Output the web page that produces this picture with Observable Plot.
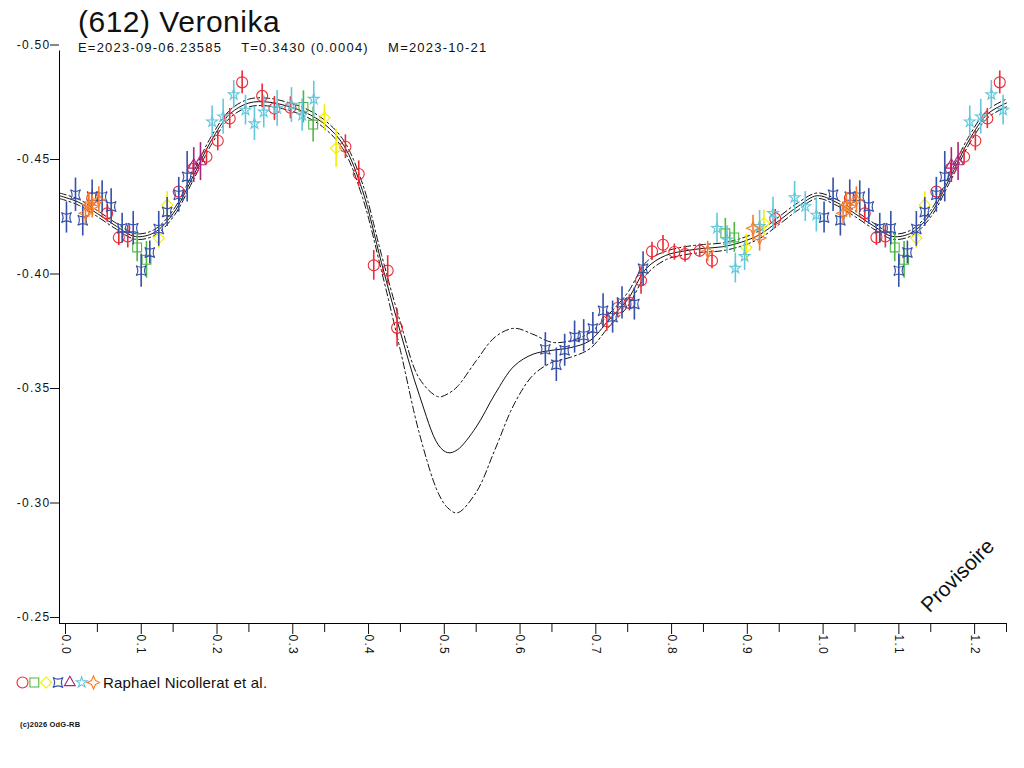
<!DOCTYPE html>
<html><head><meta charset="utf-8">
<script src="https://cdn.jsdelivr.net/npm/d3@7"></script>
<script src="https://cdn.jsdelivr.net/npm/@observablehq/plot@0.6"></script>
<style>
body{margin:0;background:#fff;font-family:Arial,"Liberation Sans",sans-serif;color:#111;}
#wrap{position:relative;width:1024px;height:768px;overflow:hidden;background:#fff;}
#chart{position:absolute;left:0;top:0;}
#title{position:absolute;left:78px;top:7px;font-size:30px;line-height:30px;letter-spacing:0.5px;white-space:pre;}
#sub{position:absolute;left:78px;top:41px;font-size:13px;line-height:13px;letter-spacing:1.2px;white-space:pre;}
#legsym{position:absolute;left:0;top:672px;}
#legtxt{position:absolute;left:103px;top:675px;font-size:15px;line-height:15px;letter-spacing:0.2px;white-space:pre;}
#copy{position:absolute;left:20px;top:721px;font-size:7.5px;font-weight:bold;line-height:7.5px;letter-spacing:0.2px;white-space:pre;}
#chart g[aria-label="y-axis tick label"] text,#chart g[aria-label="x-axis tick label"] text{letter-spacing:1.3px;}
</style></head><body>
<div id="wrap">
<div id="chart"></div>
<div id="title">(612) Veronika</div>
<div id="sub">E=2023-09-06.23585    T=0.3430 (0.0004)    M=2023-10-21</div>
<div id="legsym"></div>
<div id="legtxt">Raphael Nicollerat et al.</div>
<div id="copy">(c)2026 OdG-RB</div>
</div>
<script>
// ---------- axis ticks ----------
const xMajorTicks = [0,0.1,0.2,0.3,0.4,0.5,0.6,0.7,0.8,0.9,1.0,1.1,1.2];
const xMinorTicks = [0.05,0.15,0.25,0.35,0.45,0.55,0.65,0.75,0.85,0.95,1.05,1.15,1.25];
const yTicks = [-0.50,-0.45,-0.40,-0.35,-0.30,-0.25];

// ---------- fitted light curve (phase, mid, upper, lower) ----------
const fitPhase = [0,0.025,0.05,0.075,0.1,0.125,0.15,0.175,0.2,0.225,0.25,0.275,0.3,0.325,0.35,0.375,0.4,0.425,0.45,0.475,0.5,0.5125,0.525,0.55,0.575,0.6,0.625,0.65,0.675,0.7,0.725,0.75,0.775,0.8,0.825,0.85,0.875,0.9,0.925,0.95,0.975,1.0];
const fitMid = [-0.4368,-0.4340,-0.4290,-0.4235,-0.4190,-0.4207,-0.4290,-0.4443,-0.4607,-0.4725,-0.4773,-0.4777,-0.4760,-0.4731,-0.4680,-0.4589,-0.4390,-0.4075,-0.3772,-0.3497,-0.3280,-0.3246,-0.3258,-0.3358,-0.3503,-0.3624,-0.3676,-0.3693,-0.3705,-0.3735,-0.3825,-0.3915,-0.4052,-0.4107,-0.4127,-0.4138,-0.4145,-0.4165,-0.4200,-0.4260,-0.4322,-0.4368];
const fitHi = [-0.4380,-0.4353,-0.4303,-0.4248,-0.4202,-0.4220,-0.4305,-0.4460,-0.4625,-0.4742,-0.4790,-0.4794,-0.4777,-0.4748,-0.4698,-0.4610,-0.4420,-0.4110,-0.3815,-0.3570,-0.3490,-0.3503,-0.3534,-0.3647,-0.3751,-0.3789,-0.3763,-0.3728,-0.3735,-0.3770,-0.3850,-0.3945,-0.4080,-0.4125,-0.4145,-0.4155,-0.4162,-0.4182,-0.4217,-0.4277,-0.4338,-0.4380];
const fitLo = [-0.4356,-0.4327,-0.4277,-0.4222,-0.4178,-0.4194,-0.4275,-0.4426,-0.4589,-0.4708,-0.4756,-0.4760,-0.4743,-0.4714,-0.4662,-0.4568,-0.4360,-0.4040,-0.3692,-0.3330,-0.3069,-0.3005,-0.2983,-0.3073,-0.3261,-0.3457,-0.3584,-0.3640,-0.3663,-0.3700,-0.3795,-0.3885,-0.4025,-0.4088,-0.4110,-0.4121,-0.4128,-0.4148,-0.4183,-0.4243,-0.4306,-0.4356];

// ---------- observations: [phase, magnitude, error] ----------
const redCircle = [[0.0432,-0.4357,0.0035],[0.0629,-0.4291,0.0039],[0.0783,-0.4186,0.0035],[0.0901,-0.4190,0.0050],[0.1574,-0.4386,0.0017],[0.1764,-0.4487,0.0022],[0.1940,-0.4538,0.0035],[0.2089,-0.4608,0.0044],[0.2247,-0.4705,0.0044],[0.2411,-0.4863,0.0050],[0.2675,-0.4804,0.0052],[0.2837,-0.4749,0.0052],[0.3048,-0.4752,0.0048],[0.3774,-0.4582,0.0052],[0.3950,-0.4463,0.0057],[0.4148,-0.4064,0.0065],[0.4332,-0.4041,0.0065],[0.4456,-0.3791,0.0083],[0.7225,-0.3820,0.0044],[0.7367,-0.3878,0.0044],[0.7522,-0.3900,0.0035],[0.7676,-0.3998,0.0060],[0.7821,-0.4125,0.0040],[0.7966,-0.4154,0.0040],[0.8116,-0.4122,0.0035],[0.8257,-0.4113,0.0035],[0.8450,-0.4128,0.0030],[0.8613,-0.4084,0.0035],[0.9448,-0.4268,0.0040]];
const greenSquare = [[0.1025,-0.4142,0.0062],[0.1148,-0.4088,0.0080],[0.3220,-0.4756,0.0070],[0.3348,-0.4679,0.0076],[0.8789,-0.4204,0.0065],[0.8907,-0.4186,0.0065]];
const yellowDiamond = [[0.1310,-0.4183,0.0045],[0.1421,-0.4328,0.0057],[0.3497,-0.4708,0.0057],[0.3651,-0.4575,0.0083],[0.9066,-0.4142,0.0057],[0.9297,-0.4248,0.0057]];
const blueSquare = [[0.0092,-0.4273,0.0068],[0.0211,-0.4372,0.0073],[0.0307,-0.4261,0.0069],[0.0431,-0.4364,0.0073],[0.0563,-0.4364,0.0069],[0.0682,-0.4321,0.0078],[0.0827,-0.4226,0.0065],[0.0973,-0.4226,0.0073],[0.1078,-0.4041,0.0073],[0.1192,-0.4120,0.0050],[0.1310,-0.4223,0.0076],[0.1421,-0.4297,0.0063],[0.1574,-0.4372,0.0076],[0.1685,-0.4451,0.0110],[0.6413,-0.3697,0.0073],[0.6558,-0.3630,0.0073],[0.6668,-0.3693,0.0070],[0.6799,-0.3751,0.0070],[0.6919,-0.3757,0.0070],[0.7040,-0.3788,0.0070],[0.7175,-0.3866,0.0074],[0.7301,-0.3838,0.0070],[0.7425,-0.3900,0.0070],[0.7588,-0.3895,0.0070],[0.7703,-0.4049,0.0074]];
const purpleTriangle = [[0.1772,-0.4502,0.0076],[0.1861,-0.4517,0.0083]];
const cyanStar = [[0.2015,-0.4691,0.0069],[0.2160,-0.4713,0.0076],[0.2300,-0.4810,0.0061],[0.2455,-0.4742,0.0065],[0.2573,-0.4683,0.0074],[0.2696,-0.4734,0.0070],[0.2873,-0.4749,0.0078],[0.3062,-0.4764,0.0076],[0.3203,-0.4720,0.0070],[0.3356,-0.4790,0.0078],[0.8679,-0.4226,0.0065],[0.8811,-0.4176,0.0061],[0.8921,-0.4052,0.0065],[0.9043,-0.4103,0.0061],[0.9241,-0.4234,0.0070],[0.9418,-0.4291,0.0070],[0.9703,-0.4360,0.0070],[0.9844,-0.4321,0.0065],[0.9990,-0.4284,0.0074]];
const orangeStar = [[0.0343,-0.4291,0.0051],[0.0387,-0.4328,0.0054],[0.0432,-0.4321,0.0050],[0.0519,-0.4350,0.0057],[0.8555,-0.4125,0.0044],[0.9154,-0.4226,0.0057],[0.9241,-0.4183,0.0057]];

const legendLabel = "Raphael Nicollerat et al.";

// ---------- custom symbols ----------
const symConcaveSquare = {draw(ctx, size){ const s = Math.sqrt(size/Math.PI); const k = s*0.35;
  ctx.moveTo(-s,-s); ctx.quadraticCurveTo(0,-k,s,-s); ctx.quadraticCurveTo(k,0,s,s);
  ctx.quadraticCurveTo(0,k,-s,s); ctx.quadraticCurveTo(-k,0,-s,-s); ctx.closePath(); }};
const symFourStar = {draw(ctx, size){ const s = Math.sqrt(size/Math.PI); const k = s*0.3;
  ctx.moveTo(0,-s); ctx.lineTo(k,-k); ctx.lineTo(s,0); ctx.lineTo(k,k); ctx.lineTo(0,s);
  ctx.lineTo(-k,k); ctx.lineTo(-s,0); ctx.lineTo(-k,-k); ctx.closePath(); }};

const seriesDefs = [
  {data: redCircle, color: "#ee2a35", symbol: "circle", r: 5.5},
  {data: greenSquare, color: "#4db845", symbol: "square", r: 5},
  {data: yellowDiamond, color: "#f2ef00", symbol: "diamond2", r: 5},
  {data: blueSquare, color: "#3450a8", symbol: symConcaveSquare, r: 5},
  {data: purpleTriangle, color: "#a8257d", symbol: "triangle", r: 4},
  {data: cyanStar, color: "#63c7dc", symbol: "star", r: 3.4},
  {data: orangeStar, color: "#f57c2a", symbol: symFourStar, r: 6.5}
];

// phases 0..0.25 are repeated at 1..1.25
function wrapPoints(arr){
  const out = arr.map(([p,m,e]) => ({p, m, e}));
  arr.forEach(([p,m,e]) => { if (p + 1 <= 1.25) out.push({p: p + 1, m, e}); });
  return out;
}
function wrapCurve(vals){
  const rows = fitPhase.map((p,i) => ({p, v: vals[i]}));
  fitPhase.forEach((p,i) => { if (p > 0 && p <= 0.25 + 1e-9) rows.push({p: p + 1, v: vals[i]}); });
  return rows.sort((a,b) => a.p - b.p);
}

const marks = [
  Plot.ruleX([0], {y1: -0.50, y2: -0.25, stroke: "#000", strokeWidth: 1}),
  Plot.ruleY([-0.25], {x1: 0, x2: 1.25, stroke: "#000", strokeWidth: 1}),
  Plot.axisY({ticks: yTicks, tickSize: 9, tickPadding: 0, tickFormat: d => d.toFixed(2), dy: -6, label: null, fontSize: 12}),
  Plot.axisX({ticks: xMinorTicks, tickSize: 9, tickFormat: () => "", label: null}),
  Plot.axisX({ticks: xMajorTicks, tickSize: 11, tickPadding: 0, tickRotate: 90, tickFormat: d => d.toFixed(1), label: null, fontSize: 12, dx: 6}),
  Plot.line(wrapCurve(fitHi), {x: "p", y: "v", curve: "catmull-rom", stroke: "#111", strokeWidth: 1, strokeDasharray: "7,3,2,3"}),
  Plot.line(wrapCurve(fitLo), {x: "p", y: "v", curve: "catmull-rom", stroke: "#111", strokeWidth: 1, strokeDasharray: "7,3,2,3"}),
  Plot.line(wrapCurve(fitMid), {x: "p", y: "v", curve: "catmull-rom", stroke: "#111", strokeWidth: 1})
];
for (const s of seriesDefs) {
  const pts = wrapPoints(s.data);
  marks.push(Plot.ruleX(pts, {x: "p", y1: d => d.m - d.e, y2: d => d.m + d.e, stroke: s.color, strokeWidth: 1.6}));
  marks.push(Plot.dot(pts, {x: "p", y: "m", symbol: s.symbol, r: s.r, stroke: s.color, fill: "none", strokeWidth: 1.1}));
}
marks.push(Plot.text(["Provisoire"], {frameAnchor: "bottom-right", rotate: -45, textAnchor: "start", lineAnchor: "bottom", dx: -77, dy: -10, fontSize: 21, fill: "#111"}));

const chart = Plot.plot({
  width: 1024, height: 665,
  marginLeft: 59, marginRight: 18, marginTop: 50.5, marginBottom: 42,
  style: {fontFamily: "Arial, 'Liberation Sans', sans-serif", fontSize: "12px", color: "#111", background: "#fff"},
  x: {domain: [0, 1.25], label: null},
  y: {domain: [-0.25, -0.50], label: null},
  marks
});
document.getElementById("chart").appendChild(chart);

// legend symbols
const leg = Plot.plot({
  width: 100, height: 20, marginLeft: 22, marginRight: 7, marginTop: 0, marginBottom: 0,
  x: {domain: [0, 6], axis: null}, y: {domain: [0, 1], axis: null},
  marks: seriesDefs.map((s,i) => Plot.dot([i], {x: d => d, y: 0.5, symbol: s.symbol, r: s.r, stroke: s.color, fill: "none", strokeWidth: 1.1}))
});
document.getElementById("legsym").appendChild(leg);
</script>
</body></html>
